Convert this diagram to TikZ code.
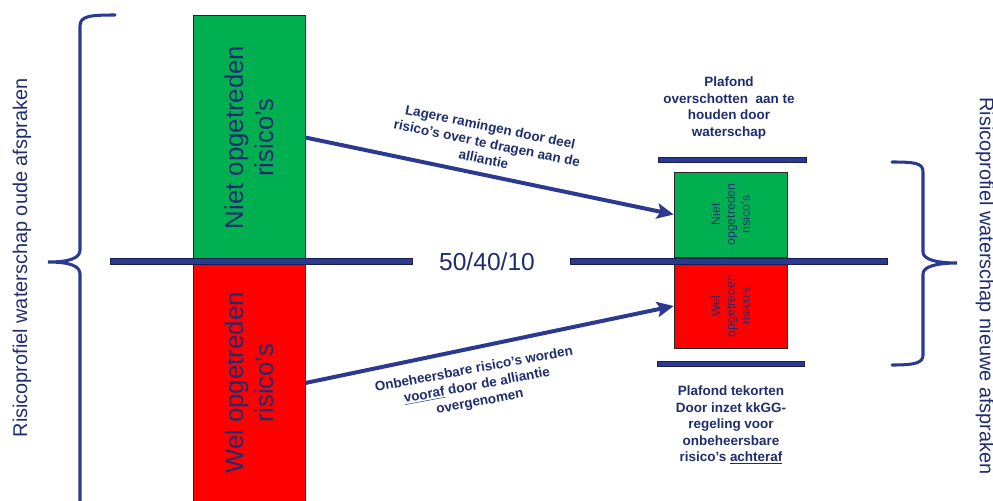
\documentclass[tikz,border=0pt]{standalone}
\usepackage{fontspec}
\setmainfont{Liberation Sans}
\usepackage{tikz}
\usetikzlibrary{arrows.meta}
\usepackage{xcolor}
\definecolor{navy}{RGB}{43,57,144}
\definecolor{inkblue}{RGB}{31,45,110}
\definecolor{boxgreen}{RGB}{0,176,80}
\definecolor{boxred}{RGB}{255,0,0}

\begin{document}
\begin{tikzpicture}[x=0.03cm,y=-0.03cm,>={Stealth[length=5mm,width=4.6mm,inset=1mm]},
  bar/.style={draw=navy!55!black,fill=navy,line width=0.6pt},
  brace/.style={navy,line width=2.6pt,line cap=round},
  block/.style={draw=black!85,line width=0.6pt,inner sep=0pt},
  bigtext/.style={text=inkblue,font=\fontsize{22}{25.6}\selectfont,align=center},
  smalltext/.style={text=inkblue,font=\fontsize{10.5}{12.8}\selectfont,align=center},
  sidetext/.style={text=inkblue,font=\fontsize{17}{20}\selectfont},
  note/.style={text=inkblue,font=\fontsize{11.5}{14}\selectfont\bfseries,align=center}]
\useasboundingbox (0,0) rectangle (993,500);
\node[block,fill=boxgreen,minimum width=3.36cm,minimum height=7.35cm] (niet) at (249,137.5) {};
\node[block,fill=boxred,minimum width=3.36cm,minimum height=7.2cm] (wel) at (249,383) {};
\node[bigtext,rotate=90] at (niet) {Niet opgetreden\\risico’s};
\node[bigtext,rotate=90] at (wel) {Wel opgetreden\\risico’s};
\node[block,fill=boxgreen,minimum width=3.39cm,minimum height=2.55cm] (kleinniet) at (730.5,214.5) {};
\node[block,fill=boxred,minimum width=3.39cm,minimum height=2.52cm] (kleinwel) at (730.5,306) {};
\node[smalltext,rotate=90] at (kleinniet) {Niet\\opgetreden\\risico’s};
\node[smalltext,rotate=90] at (kleinwel) {Wel\\opgetreden\\risico’s};
\draw[bar] (110,258) rectangle (412,264);
\draw[bar] (570,258) rectangle (887,264);
\draw[bar] (658,157) rectangle (806,162);
\draw[bar] (657,361) rectangle (804,366);
\node[text=inkblue,font=\fontsize{21}{25}\selectfont] (verdeling) at (487,262) {50/40/10};
\draw[brace] (115,15) .. controls (90,15) and (80,16) .. (80,26) -- (80,250)
  .. controls (80,258) and (70,262) .. (48,262) .. controls (70,262) and (80,266) .. (80,274) -- (80,502);
\draw[brace] (892,162) .. controls (915,162) and (923,163) .. (923,172) -- (923,252)
  .. controls (923,259) and (935,263) .. (957,263) .. controls (935,263) and (923,267) .. (923,274)
  -- (923,355) .. controls (923,363) and (915,365) .. (892,365);
\node[sidetext,rotate=90] (oud) at (22,258) {Risicoprofiel waterschap oude afspraken};
\node[sidetext,rotate=-90] (nieuw) at (985,286) {Risicoprofiel waterschap nieuwe afspraken};
\draw[->,navy,line width=3.4pt] (niet.east) -- (kleinniet.west);
\draw[->,navy,line width=3.4pt] (wel.east) -- (kleinwel.west);
\node[note,rotate=-11.7] (lager) at (487,143) {Lagere ramingen door deel\\risico’s over te dragen aan de\\alliantie};
\node[note,rotate=10.5] (vooraf) at (477,386) {Onbeheersbare risico’s worden\\\underline{vooraf} door de alliantie\\overgenomen};
\node[note] (plafondboven) at (729,108) {Plafond\\overschotten~~aan te\\houden door\\waterschap};
\node[note] (plafondonder) at (731,425) {Plafond tekorten\\Door inzet kkGG-\\regeling voor\\onbeheersbare\\risico’s \underline{achteraf}};
\end{tikzpicture}
\end{document}
